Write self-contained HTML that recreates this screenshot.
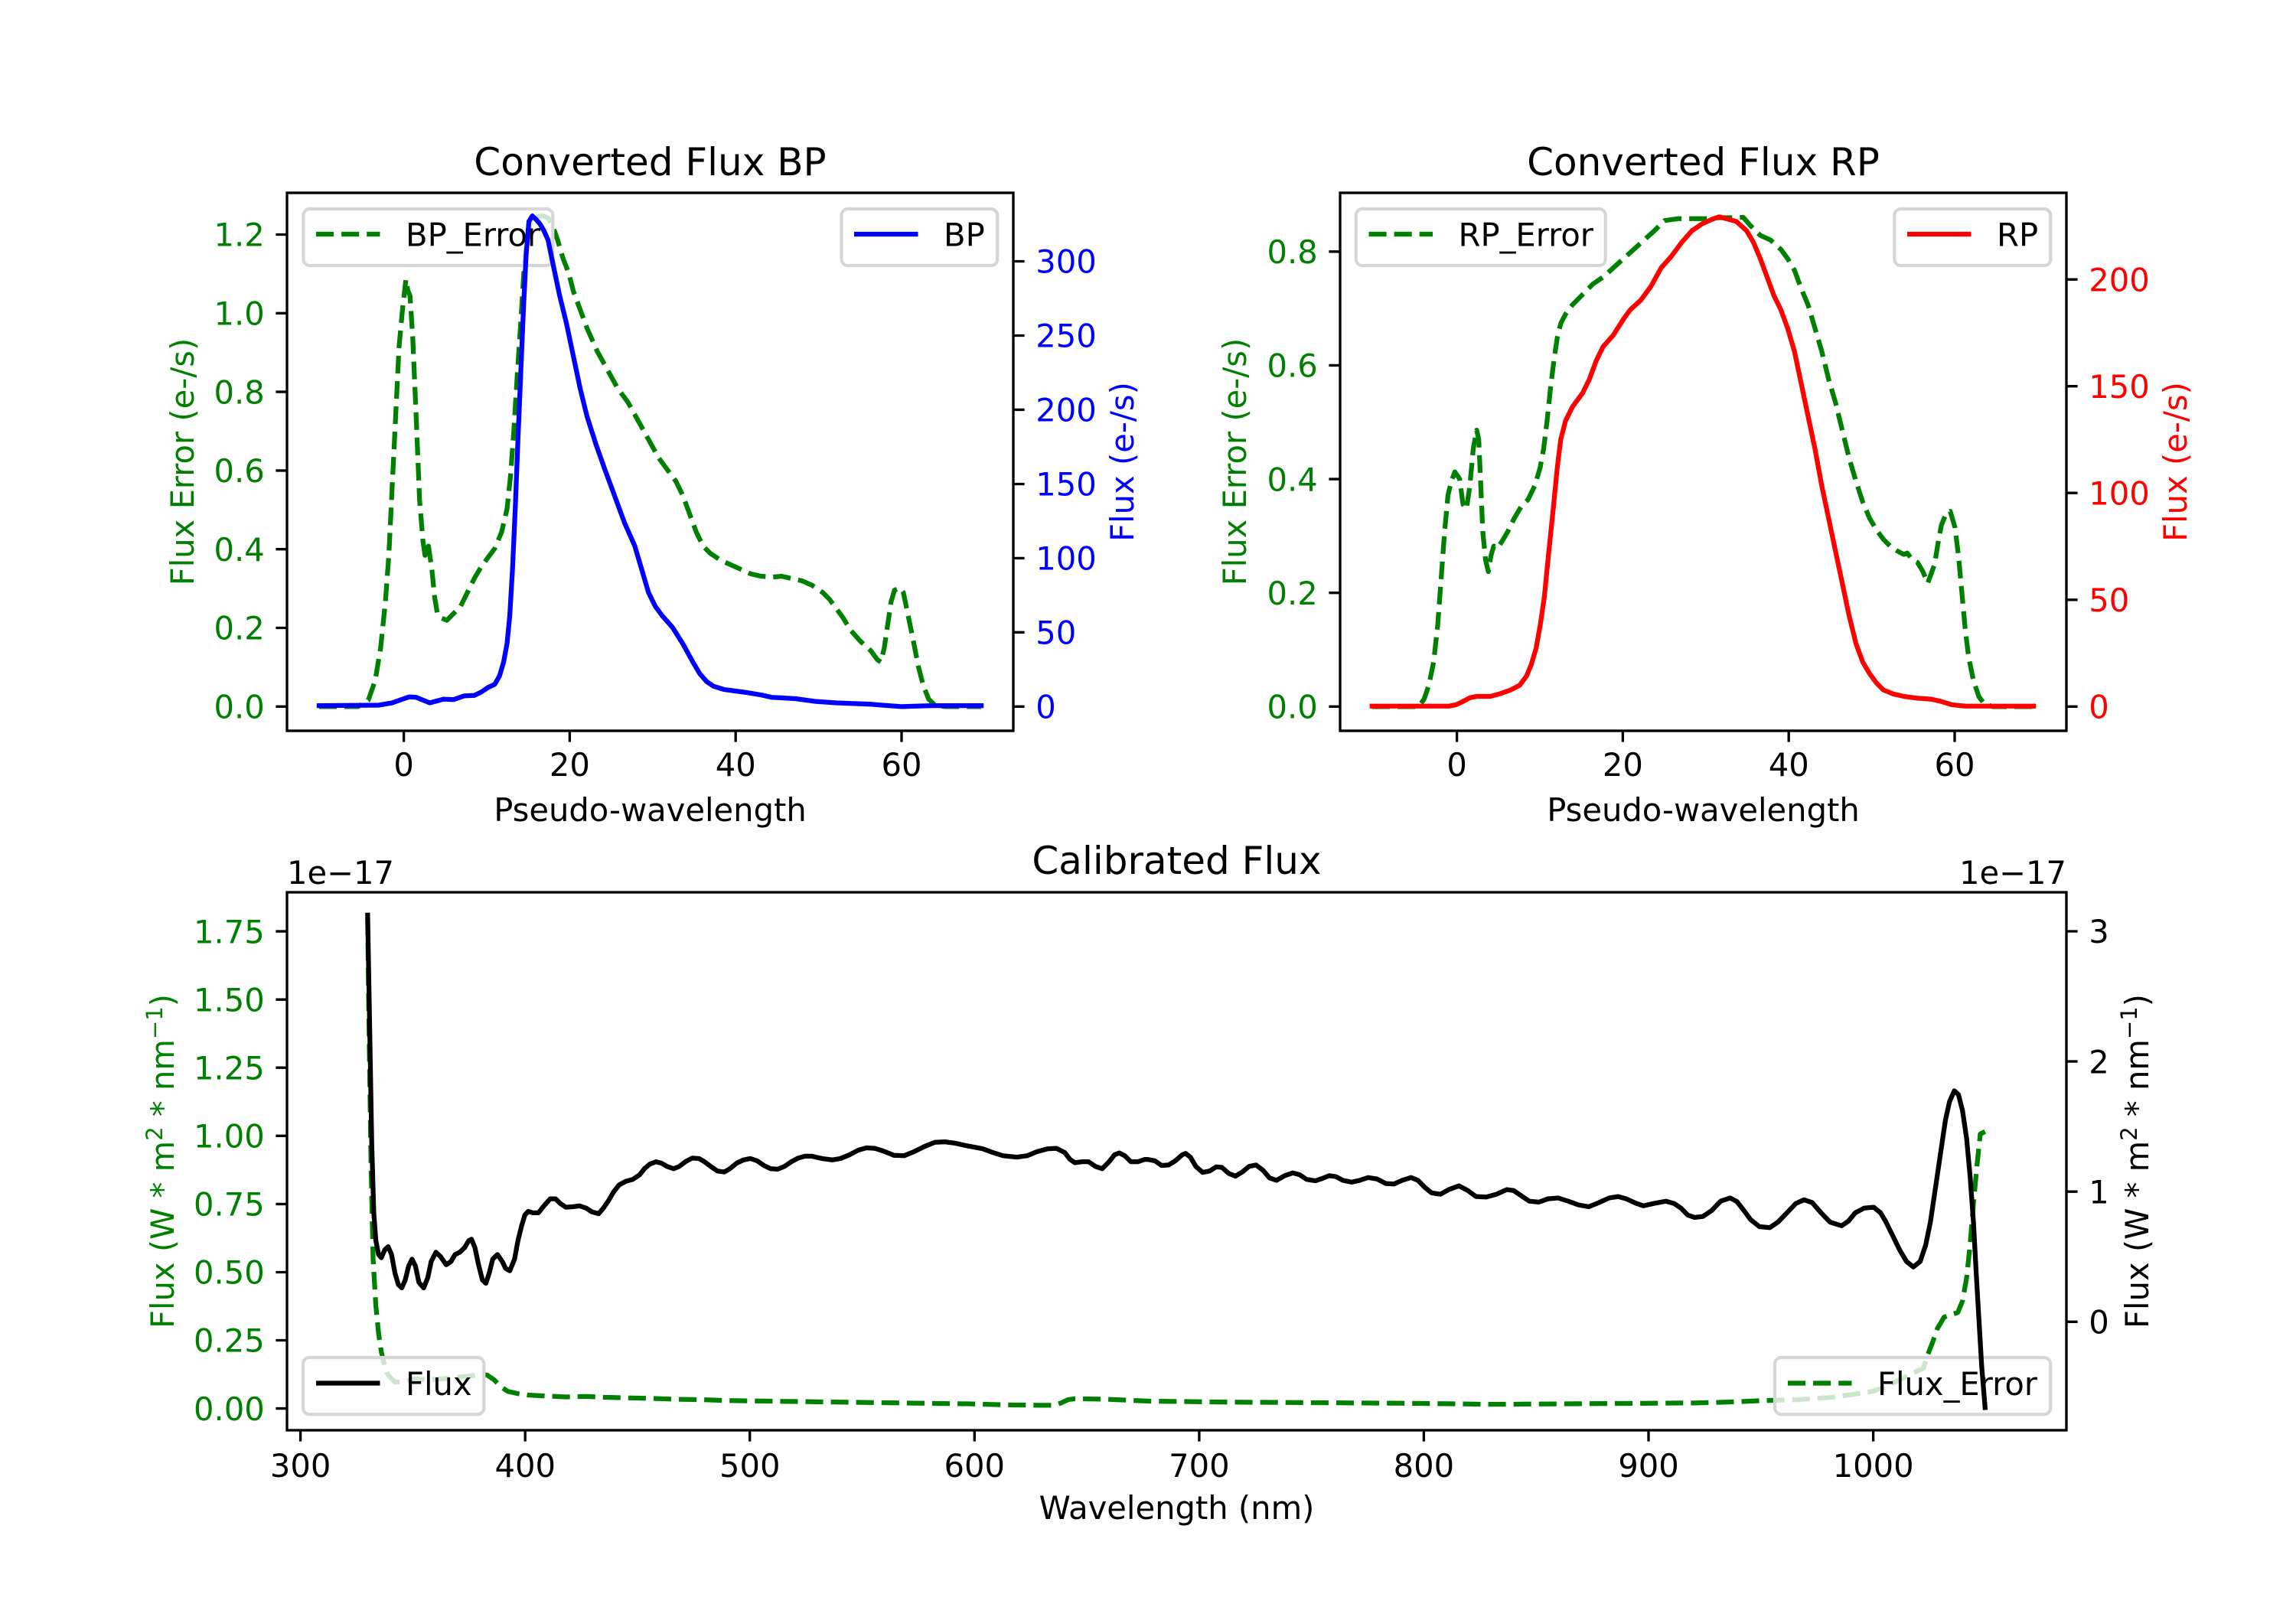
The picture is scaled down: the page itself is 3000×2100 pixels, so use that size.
<!DOCTYPE html>
<html><head><meta charset="utf-8">
<style>
html,body{margin:0;padding:0;background:#fff;}
svg{display:block;}
text{font-family:"DejaVu Sans","Liberation Sans",sans-serif;}
.n{vector-effect:non-scaling-stroke;fill:none;stroke-width:6.25;stroke-linejoin:round;}
.d{stroke-dasharray:23.1,10;stroke-linecap:butt;}
.s{stroke-linecap:square;}
.tk{stroke:#000;stroke-width:3.33;fill:none;}
.sp{stroke:#000;stroke-width:3.33;fill:none;stroke-linejoin:miter;}
.lg{fill:#fff;fill-opacity:0.8;stroke:#d6d6d6;stroke-width:4.17;}
.t{font-size:41.67px;}
</style></head><body>
<svg width="3000" height="2100" viewBox="0 0 3000 2100" xmlns="http://www.w3.org/2000/svg">
<defs>
<clipPath id="c1"><rect x="375" y="252" width="949" height="703"/></clipPath>
<clipPath id="c2"><rect x="1751" y="252" width="949" height="703"/></clipPath>
<clipPath id="c3"><rect x="375" y="1166" width="2325" height="703"/></clipPath>
</defs>
<rect width="3000" height="2100" fill="#fff"/>

<!-- ================= TOP LEFT ================= -->
<text x="849.5" y="229" font-size="50" text-anchor="middle">Converted Flux BP</text>
<g clip-path="url(#c1)"><g transform="translate(200,150) scale(0.892857,0.606061)">
<path class="n d" stroke="#008000" d="M243 1276 L300 1276 L315 1262 L325 1220 L333 1150 L340 1050 L345 950 L350 800 L355 650 L360 500 L365 420 L370 355 L373 380 L376 390 L380 480 L385 650 L390 830 L395 920 L398 950 L403 930 L408 980 L412 1040 L416 1075 L422 1085 L430 1090 L440 1075 L450 1060 L460 1030 L470 1000 L480 975 L490 955 L500 935 L510 900 L518 850 L523 780 L528 680 L533 560 L538 450 L543 330 L548 260 L553 225 L560 220 L570 218 L578 222 L585 240 L592 270 L600 310 L608 340 L615 380 L625 420 L635 460 L650 510 L665 550 L680 590 L695 620 L710 660 L725 700 L740 740 L755 770 L765 790 L775 820 L785 860 L795 900 L805 930 L815 945 L830 960 L845 970 L860 980 L875 990 L890 995 L905 997 L920 995 L935 1000 L950 1005 L965 1015 L980 1030 L990 1045 L1000 1065 L1010 1085 L1020 1110 L1035 1135 L1050 1155 L1060 1175 L1065 1180 L1070 1150 L1075 1100 L1080 1050 L1085 1025 L1093 1020 L1098 1030 L1105 1080 L1112 1130 L1120 1190 L1127 1230 L1135 1260 L1145 1274 L1160 1276 L1212 1276"/>
</g></g>
<!-- legend BP_Error -->
<rect class="lg" x="396.4" y="273" width="325.9" height="74" rx="8.3"/>
<line x1="413" y1="306" x2="496.5" y2="306" stroke="#008000" stroke-width="6.25" stroke-dasharray="23.1,10"/>
<text class="t" x="530" y="321.5">BP_Error</text>
<g clip-path="url(#c1)"><g transform="translate(200,150) scale(0.892857,0.606061)">
<path class="n s" stroke="#0000ff" d="M243 1274 L330 1273 L350 1268 L365 1260 L375 1255 L385 1256 L395 1262 L405 1268 L415 1264 L425 1260 L440 1261 L455 1253 L470 1252 L480 1245 L490 1235 L500 1228 L507 1210 L513 1180 L518 1140 L522 1080 L526 980 L530 850 L534 700 L538 560 L542 420 L546 300 L550 230 L555 218 L560 225 L566 235 L572 250 L578 270 L585 320 L595 390 L605 450 L615 520 L625 590 L635 650 L648 710 L660 760 L675 820 L690 880 L705 930 L715 980 L725 1030 L735 1060 L745 1080 L760 1105 L775 1140 L790 1180 L800 1205 L810 1222 L820 1232 L835 1239 L850 1242 L870 1246 L890 1251 L905 1256 L940 1259 L970 1265 L1000 1268 L1050 1271 L1095 1276 L1140 1274 L1212 1274"/>
</g></g>
<rect class="lg" x="1099.5" y="273" width="203.7" height="74" rx="8.3"/>
<line x1="1116" y1="306" x2="1199.5" y2="306" stroke="#0000ff" stroke-width="6.25"/>
<text class="t" x="1233" y="321.5">BP</text>
<rect class="sp" x="375" y="252" width="949" height="703"/>
<path class="tk" d="M360.4 923.3H375M360.4 820.5H375M360.4 717.7H375M360.4 614.9H375M360.4 512.1H375M360.4 409.3H375M360.4 306.5H375
M1324 923.3H1338.6M1324 826.3H1338.6M1324 729.4H1338.6M1324 632.5H1338.6M1324 535.4H1338.6M1324 438.5H1338.6M1324 341.5H1338.6
M527.6 955V969.6M744.4 955V969.6M961.2 955V969.6M1178 955V969.6"/>
<g class="t" fill="#008000" text-anchor="end">
<text x="345.8" y="938.5">0.0</text><text x="345.8" y="835.7">0.2</text><text x="345.8" y="732.9">0.4</text><text x="345.8" y="630.1">0.6</text><text x="345.8" y="527.3">0.8</text><text x="345.8" y="424.5">1.0</text><text x="345.8" y="321.7">1.2</text>
</g>
<g class="t" fill="#0000ff">
<text x="1353.2" y="938.5">0</text><text x="1353.2" y="841.5">50</text><text x="1353.2" y="744.6">100</text><text x="1353.2" y="647.7">150</text><text x="1353.2" y="550.6">200</text><text x="1353.2" y="453.7">250</text><text x="1353.2" y="356.7">300</text>
</g>
<g class="t" text-anchor="middle">
<text x="527.6" y="1014">0</text><text x="744.4" y="1014">20</text><text x="961.2" y="1014">40</text><text x="1178" y="1014">60</text>
<text x="849.5" y="1073">Pseudo-wavelength</text>
</g>
<text class="t" fill="#008000" text-anchor="middle" transform="translate(253,603.5) rotate(-90)">Flux Error (e-/s)</text>
<text class="t" fill="#0000ff" text-anchor="middle" transform="translate(1481,603.5) rotate(-90)">Flux (e-/s)</text>

<!-- ================= TOP RIGHT ================= -->
<text x="2225.5" y="229" font-size="50" text-anchor="middle">Converted Flux RP</text>
<g clip-path="url(#c2)"><g transform="translate(1550,150) scale(0.892857,0.606061)">
<path class="n d" stroke="#008000" d="M272 1276 L340 1276 L348 1260 L355 1230 L362 1180 L368 1100 L373 1000 L378 900 L383 820 L388 790 L393 770 L400 785 L405 840 L410 850 L415 800 L420 720 L425 680 L428 700 L431 800 L434 900 L438 960 L442 985 L446 950 L450 930 L455 935 L462 920 L470 900 L480 870 L490 845 L500 830 L510 800 L518 760 L523 720 L528 660 L533 590 L538 530 L543 480 L548 450 L555 430 L565 410 L575 395 L585 380 L595 365 L610 350 L625 330 L640 310 L655 290 L670 270 L685 250 L700 228 L720 224 L740 224 L760 224 L780 222 L800 222 L815 221 L825 238 L840 260 L855 270 L870 290 L880 310 L890 335 L900 375 L910 410 L920 460 L930 510 L940 570 L950 620 L960 680 L970 740 L980 790 L990 835 L1000 870 L1010 895 L1020 915 L1030 930 L1040 940 L1050 948 L1055 945 L1063 960 L1070 965 L1078 985 L1085 1010 L1090 990 L1095 970 L1100 925 L1105 885 L1112 860 L1118 855 L1125 890 L1130 950 L1135 1030 L1140 1110 L1145 1170 L1152 1220 L1160 1255 L1168 1270 L1180 1276 L1240 1276"/>
</g></g>
<rect class="lg" x="1771.8" y="273" width="325.9" height="74" rx="8.3"/>
<line x1="1788.5" y1="306" x2="1872" y2="306" stroke="#008000" stroke-width="6.25" stroke-dasharray="23.1,10"/>
<text class="t" x="1905.5" y="321.5">RP_Error</text>
<g clip-path="url(#c2)"><g transform="translate(1550,150) scale(0.892857,0.606061)">
<path class="n s" stroke="#ff0000" d="M272 1275 L385 1275 L395 1272 L405 1265 L415 1257 L425 1254 L445 1254 L460 1248 L475 1240 L488 1230 L498 1210 L505 1185 L512 1150 L518 1100 L524 1040 L530 950 L537 850 L543 760 L548 700 L555 660 L565 630 L580 600 L590 570 L600 530 L610 500 L625 475 L640 440 L650 420 L665 400 L680 370 L695 330 L710 305 L725 275 L740 250 L755 235 L770 225 L780 220 L790 224 L805 230 L820 250 L830 275 L840 310 L850 350 L860 390 L870 420 L880 460 L890 510 L900 580 L910 650 L920 720 L930 800 L940 870 L950 940 L960 1010 L970 1080 L980 1140 L990 1180 L1000 1205 L1010 1225 L1020 1240 L1035 1249 L1050 1254 L1070 1258 L1090 1260 L1105 1265 L1120 1272 L1140 1275 L1240 1275"/>
</g></g>
<rect class="lg" x="2475.3" y="273" width="204" height="74" rx="8.3"/>
<line x1="2492" y1="306" x2="2575.5" y2="306" stroke="#ff0000" stroke-width="6.25"/>
<text class="t" x="2609" y="321.5">RP</text>
<rect class="sp" x="1751" y="252" width="949" height="703"/>
<path class="tk" d="M1736.4 923.3H1751M1736.4 774.7H1751M1736.4 626.1H1751M1736.4 477.4H1751M1736.4 328.8H1751
M2700 923.3H2714.6M2700 783.8H2714.6M2700 644.2H2714.6M2700 504.7H2714.6M2700 365.2H2714.6
M1903.6 955V969.6M2120.4 955V969.6M2337.2 955V969.6M2554 955V969.6"/>
<g class="t" fill="#008000" text-anchor="end">
<text x="1721.8" y="938.5">0.0</text><text x="1721.8" y="789.9">0.2</text><text x="1721.8" y="641.3">0.4</text><text x="1721.8" y="492.6">0.6</text><text x="1721.8" y="344">0.8</text>
</g>
<g class="t" fill="#ff0000">
<text x="2729.2" y="938.5">0</text><text x="2729.2" y="799">50</text><text x="2729.2" y="659.4">100</text><text x="2729.2" y="519.9">150</text><text x="2729.2" y="380.4">200</text>
</g>
<g class="t" text-anchor="middle">
<text x="1903.6" y="1014">0</text><text x="2120.4" y="1014">20</text><text x="2337.2" y="1014">40</text><text x="2554" y="1014">60</text>
<text x="2225.5" y="1073">Pseudo-wavelength</text>
</g>
<text class="t" fill="#008000" text-anchor="middle" transform="translate(1628,603.5) rotate(-90)">Flux Error (e-/s)</text>
<text class="t" fill="#ff0000" text-anchor="middle" transform="translate(2857,603.5) rotate(-90)">Flux (e-/s)</text>

<!-- ================= BOTTOM ================= -->
<text x="1537.5" y="1142" font-size="50" text-anchor="middle">Calibrated Flux</text>
<text class="t" x="375" y="1155">1e−17</text>
<text class="t" x="2700" y="1155" text-anchor="end">1e−17</text>
<g clip-path="url(#c3)"><g transform="translate(150,1100) scale(0.892857,0.606061)">
<path class="n d" stroke="#008000" d="M370 163 L372 400 L375 700 L378 900 L382 1000 L386 1060 L390 1100 L395 1130 L400 1150 L410 1165 L420 1165 L440 1158 L460 1160 L480 1158 L500 1155 L520 1152 L535 1148 L545 1150 L555 1160 L565 1175 L575 1185 L590 1190 L605 1193 L630 1195 L660 1197 L690 1196 L720 1198 L750 1199 L780 1200 L820 1202 L860 1203 L900 1205 L950 1206 L1000 1207 L1050 1208 L1100 1209 L1150 1210 L1200 1211 L1250 1212 L1300 1214 L1350 1215 L1375 1215 L1385 1210 L1395 1203 L1405 1201 L1450 1202 L1512 1206 L1612 1208 L1712 1209 L1812 1210 L1912 1211 L1962 1212 L2012 1213 L2112 1212 L2212 1211 L2312 1210 L2362 1208 L2412 1205 L2462 1203 L2512 1198 L2552 1190 L2572 1185 L2592 1175 L2612 1160 L2632 1145 L2647 1135 L2652 1110 L2660 1080 L2667 1050 L2677 1025 L2687 1020 L2697 1015 L2704 990 L2710 940 L2715 870 L2720 780 L2725 700 L2730 630 L2737 625"/>
</g></g>
<rect class="lg" x="2319" y="1774" width="360.2" height="74.2" rx="8.3"/>
<line x1="2336" y1="1807.5" x2="2419.5" y2="1807.5" stroke="#008000" stroke-width="6.25" stroke-dasharray="23.1,10"/>
<text class="t" x="2453" y="1823">Flux_Error</text>
<g clip-path="url(#c3)"><g transform="translate(150,1100) scale(0.892857,0.606061)">
<path class="n s" stroke="#000" d="M370 158 L373 400 L376 650 L379 800 L382 860 L386 890 L390 897 L395 880 L400 873 L405 890 L410 930 L415 955 L420 962 L425 945 L430 915 L435 900 L440 915 L445 950 L452 962 L458 940 L463 905 L470 885 L477 895 L485 912 L492 905 L498 890 L505 885 L512 875 L518 860 L522 857 L527 875 L532 910 L538 945 L543 952 L548 930 L553 900 L560 890 L567 905 L572 920 L578 925 L585 900 L590 860 L595 830 L600 805 L605 797 L612 800 L620 800 L628 785 L637 770 L645 770 L652 780 L660 788 L670 787 L680 785 L690 790 L698 798 L708 802 L715 790 L722 775 L730 755 L738 740 L748 732 L758 728 L768 718 L775 705 L783 695 L792 690 L800 693 L808 700 L818 705 L826 700 L835 690 L845 682 L855 683 L863 690 L872 700 L882 710 L892 712 L900 705 L910 693 L920 686 L930 683 L940 688 L950 698 L960 705 L970 706 L980 700 L990 690 L1000 682 L1010 678 L1020 678 L1035 683 L1050 686 L1062 683 L1075 675 L1088 665 L1100 660 L1112 661 L1125 667 L1140 676 L1155 677 L1170 668 L1185 657 L1200 648 L1215 647 L1230 650 L1245 655 L1260 659 L1270 662 L1285 670 L1300 677 L1320 680 L1335 677 L1350 668 L1365 662 L1378 661 L1390 670 L1398 685 L1405 692 L1415 690 L1425 690 L1435 700 L1445 705 L1455 690 L1463 675 L1470 671 L1478 677 L1487 690 L1497 690 L1507 685 L1512 685 L1522 688 L1532 698 L1542 697 L1552 688 L1562 675 L1567 672 L1574 680 L1582 700 L1592 713 L1602 710 L1612 701 L1620 702 L1630 715 L1640 721 L1650 712 L1660 700 L1670 697 L1680 708 L1690 725 L1700 730 L1712 720 L1724 714 L1734 718 L1744 728 L1757 731 L1767 726 L1777 720 L1787 722 L1797 730 L1810 734 L1822 730 L1834 724 L1847 727 L1860 737 L1872 738 L1884 730 L1897 724 L1907 730 L1917 745 L1927 757 L1940 760 L1952 750 L1967 742 L1980 752 L1992 765 L2007 766 L2022 760 L2037 750 L2047 752 L2057 762 L2070 775 L2084 777 L2097 770 L2112 768 L2127 775 L2142 783 L2157 787 L2172 778 L2187 768 L2200 765 L2212 770 L2227 780 L2237 785 L2252 780 L2270 775 L2282 780 L2292 790 L2302 805 L2312 810 L2324 808 L2337 795 L2350 775 L2364 768 L2374 776 L2384 795 L2394 815 L2407 830 L2422 832 L2434 820 L2447 800 L2460 780 L2472 772 L2484 778 L2497 800 L2510 820 L2527 828 L2537 818 L2547 800 L2560 790 L2574 788 L2584 800 L2592 820 L2602 850 L2612 880 L2622 905 L2632 917 L2642 905 L2650 870 L2657 820 L2664 750 L2672 670 L2679 600 L2685 560 L2692 537 L2698 545 L2704 580 L2710 640 L2715 720 L2720 820 L2724 930 L2728 1030 L2732 1130 L2737 1220"/>
</g></g>
<rect class="lg" x="396" y="1774" width="236.3" height="74.2" rx="8.3"/>
<line x1="413" y1="1807.5" x2="496.5" y2="1807.5" stroke="#000" stroke-width="6.25"/>
<text class="t" x="530" y="1823">Flux</text>
<rect class="sp" x="375" y="1166" width="2325" height="703"/>
<path class="tk" d="M360.4 1840.6H375M360.4 1751.5H375M360.4 1662.5H375M360.4 1573.4H375M360.4 1484.3H375M360.4 1395.2H375M360.4 1306.2H375M360.4 1217.1H375
M2700 1727.3H2714.6M2700 1557.2H2714.6M2700 1387.1H2714.6M2700 1217H2714.6
M392.6 1869V1883.6M686.2 1869V1883.6M979.7 1869V1883.6M1273.3 1869V1883.6M1566.9 1869V1883.6M1860.4 1869V1883.6M2154 1869V1883.6M2447.6 1869V1883.6"/>
<g class="t" fill="#008000" text-anchor="end">
<text x="345.8" y="1855.8">0.00</text><text x="345.8" y="1766.7">0.25</text><text x="345.8" y="1677.7">0.50</text><text x="345.8" y="1588.6">0.75</text><text x="345.8" y="1499.5">1.00</text><text x="345.8" y="1410.4">1.25</text><text x="345.8" y="1321.4">1.50</text><text x="345.8" y="1232.3">1.75</text>
</g>
<g class="t" fill="#000">
<text x="2729.2" y="1742.5">0</text><text x="2729.2" y="1572.4">1</text><text x="2729.2" y="1402.3">2</text><text x="2729.2" y="1232.2">3</text>
</g>
<g class="t" text-anchor="middle">
<text x="392.6" y="1930">300</text><text x="686.2" y="1930">400</text><text x="979.7" y="1930">500</text><text x="1273.3" y="1930">600</text><text x="1566.9" y="1930">700</text><text x="1860.4" y="1930">800</text><text x="2154" y="1930">900</text><text x="2447.6" y="1930">1000</text>
<text x="1537.5" y="1985">Wavelength (nm)</text>
</g>
<text class="t" fill="#008000" text-anchor="middle" transform="translate(227,1517.5) rotate(-90)">Flux (W * m<tspan dy="-15" font-size="29">2</tspan><tspan dy="15"> * nm</tspan><tspan dy="-15" font-size="29">−1</tspan><tspan dy="15">)</tspan></text>
<text class="t" fill="#000" text-anchor="middle" transform="translate(2807,1517.5) rotate(-90)">Flux (W * m<tspan dy="-15" font-size="29">2</tspan><tspan dy="15"> * nm</tspan><tspan dy="-15" font-size="29">−1</tspan><tspan dy="15">)</tspan></text>
</svg>
</body></html>
